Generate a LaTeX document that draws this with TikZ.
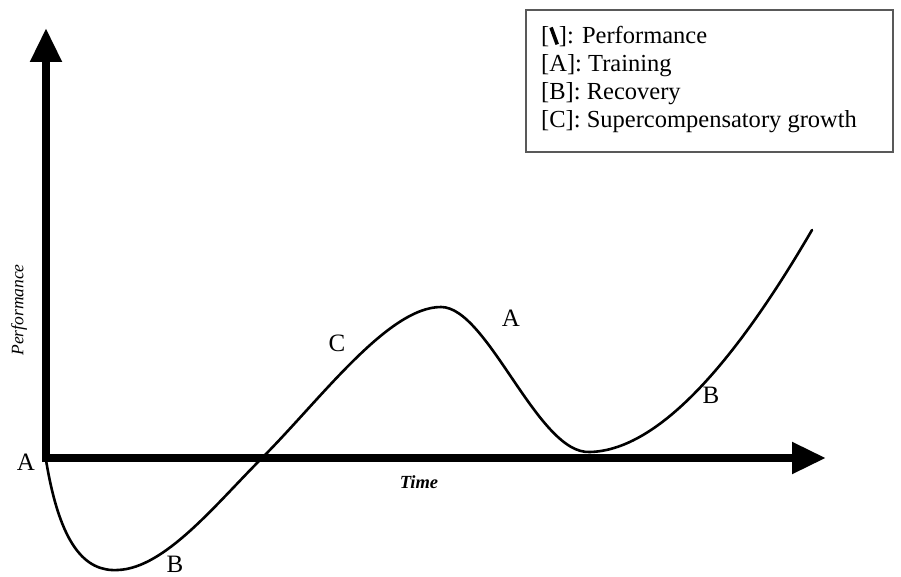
\documentclass[tikz,border=0pt]{standalone}
\usepackage{fontspec}
\usepackage{graphicx}
\setmainfont{Liberation Serif}
\usetikzlibrary{arrows.meta}
\newcommand{\perfmark}{\raisebox{-1pt}{\rotatebox{20}{\rule{3.6pt}{18pt}}}}
\begin{document}
\begin{tikzpicture}[x=1pt,y=-1pt,
  axis/.style={line width=8pt,-{Triangle[length=34pt,width=30pt]}},
  curve/.style={line width=2.6pt,line cap=round},
  lbl/.style={font=\fontsize{25}{27}\selectfont,inner sep=0pt},
  axlbl/.style={font=\bfseries\itshape\fontsize{18.5}{20}\selectfont,inner sep=0pt}]
\useasboundingbox (0,0) rectangle (901,577);
\coordinate (O) at (46,458);
\coordinate (Ytip) at (46,28);
\coordinate (Xtip) at (826,458);
\draw[curve] (46,460) .. controls (60,545) and (85,572) .. (118,570)
  .. controls (165,568) and (215,505) .. (262,458)
  .. controls (320,400) and (388,307) .. (441,307)
  .. controls (488,307) and (538,455) .. (590,452)
  .. controls (665,450) and (745,345) .. (812,230);
\draw[axis] (46,462) -- (Ytip);
\draw[axis] (42,458) -- (Xtip);
\node[lbl] (a1) at (26,462) {A};
\node[lbl] (b1) at (175,564) {B};
\node[lbl] (c1) at (337,343) {C};
\node[lbl] (a2) at (511,318) {A};
\node[lbl] (b2) at (711,395) {B};
\node[axlbl,rotate=90,font=\itshape\fontsize{17.5}{19}\selectfont] (perf) at (19,310) {Performance};
\node[axlbl] (time) at (419,482) {Time};
\draw[line width=1.2pt,draw=black!65] (526,10) rectangle (893,152);
\node[anchor=base west,align=left,inner sep=0pt,font=\fontsize{24.5}{28}\selectfont] (legtxt) at (541,128)
 {[\perfmark]: Performance\\{[A]}: Training\\{[B]}: Recovery\\{[C]}: Supercompensatory growth};
\end{tikzpicture}
\end{document}
